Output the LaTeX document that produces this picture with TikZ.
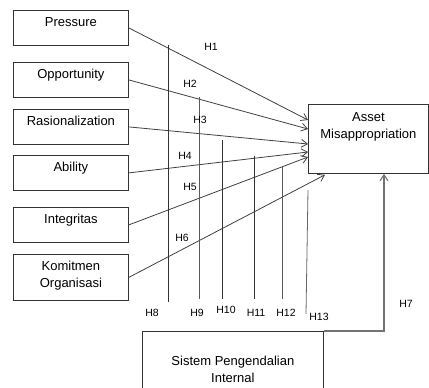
\documentclass[tikz,border=0pt]{standalone}
\usepackage{fontspec}
\setmainfont{Liberation Sans}
\usetikzlibrary{arrows.meta,calc}

\begin{document}
\begin{tikzpicture}[x=1pt,y=-1pt,line width=0.8pt,
    box/.style={draw=black!80,anchor=north west,minimum width=115pt,minimum height=35pt,inner sep=0pt},
    boxtext/.style={anchor=north,yshift=-7pt,inner sep=0pt,align=center,font=\fontsize{13}{17}\selectfont},
    hyp/.style={inner sep=0pt,font=\fontsize{10.5}{12}\selectfont},
    arr/.style={draw=black!75,-{Straight Barb[length=6pt,width=8pt]}},
    hline/.style={draw=black!80}]
  \clip (0,0) rectangle (429,388);
  % variables on the left
  \node[box,label={[boxtext]north:Pressure}] (pre) at (13,10) {};
  \node[box,label={[boxtext]north:Opportunity}] (opp) at (13,62) {};
  \node[box,label={[boxtext]north:Rasionalization}] (ras) at (13,109) {};
  \node[box,label={[boxtext]north:Ability}] (abi) at (13,155) {};
  \node[box,label={[boxtext]north:Integritas}] (int) at (13,207) {};
  \node[box,minimum height=46pt,label={[boxtext]north:Komitmen\\Organisasi}] (kom) at (13,254) {};
  % dependent and moderating variables
  \node[box,minimum width=120pt,minimum height=69pt,label={[boxtext,yshift=-1pt]north:Asset\\Misappropriation}] (am) at (308,104) {};
  \node[box,minimum width=181pt,minimum height=70pt,label={[boxtext,yshift=-18pt]north:Sistem Pengendalian\\Internal}] (sis) at (142,331) {};
  % direct effects
  \draw[arr] (pre.east) -- ($(am.north west)+(0,16)$);
  \draw[arr] (opp.east) -- ($(am.north west)+(0,25)$);
  \draw[arr] (ras.east) -- ($(am.north west)+(0,40)$);
  \draw[arr] (abi.east) -- ($(am.north west)+(0,48)$);
  \draw[arr] (int.east) -- ($(am.north west)+(0,53)$);
  \draw[arr] (kom.east) -- ($(am.south west)+(17,1)$);
  \draw[arr,draw=black!55,line width=1.1pt] (sis.north east) -| ($(am.south west)+(76,0)$);
  % moderating lines
  \coordinate (v8) at (168,45);  \draw[hline] (v8) -- ++(0,257);
  \coordinate (v9) at (199,97);  \draw[hline,draw=black!65] (v9) -- ++(0,202);
  \coordinate (v10) at (222,140); \draw[hline] (v10) -- ++(0,159);
  \coordinate (v11) at (254,156); \draw[hline] (v11) -- ++(0,143);
  \coordinate (v12) at (282,167); \draw[hline,draw=black!65] (v12) -- ++(0,132);
  \coordinate (v13) at (308,190); \draw[hline,draw=black!60] (v13) -- ++(-2,124);
  % labels
  \node[hyp] (h1) at (211,47) {H1};
  \node[hyp] (h2) at (190,84) {H2};
  \node[hyp] (h3) at (200,120) {H3};
  \node[hyp] (h4) at (185,155.5) {H4};
  \node[hyp] (h5) at (190,186.5) {H5};
  \node[hyp] (h6) at (182,238) {H6};
  \node[hyp] (h7) at (406,303.5) {H7};
  \node[hyp] (h8) at (152,313) {H8};
  \node[hyp] (h9) at (197,313) {H9};
  \node[hyp] (h10) at (226,309.5) {H10};
  \node[hyp] (h11) at (256,313) {H11};
  \node[hyp] (h12) at (286,313) {H12};
  \node[hyp] (h13) at (319,317) {H13};
\end{tikzpicture}
\end{document}
